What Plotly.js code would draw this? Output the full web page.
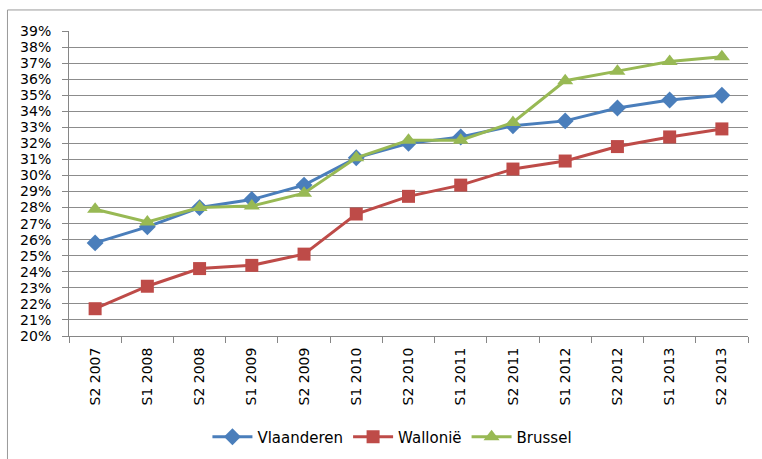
<!DOCTYPE html>
<html>
<head>
<meta charset="utf-8">
<script src="https://cdn.plot.ly/plotly-3.0.1.min.js"></script>
<style>
html,body{margin:0;padding:0;background:#fff;}
#chart{width:762px;height:459px;}
</style>
</head>
<body>
<div id="chart"></div>
<script>
const categories = ["S2 2007","S1 2008","S2 2008","S1 2009","S2 2009","S1 2010","S2 2010","S1 2011","S2 2011","S1 2012","S2 2012","S1 2013","S2 2013"];
const vlaanderen = [0.258,0.268,0.280,0.285,0.294,0.311,0.320,0.324,0.331,0.334,0.342,0.347,0.350];
const wallonie   = [0.217,0.231,0.242,0.244,0.251,0.276,0.287,0.294,0.304,0.309,0.318,0.324,0.329];
const brussel    = [0.279,0.271,0.280,0.281,0.289,0.311,0.322,0.322,0.333,0.359,0.365,0.371,0.374];
const yTickVals = [0.20,0.21,0.22,0.23,0.24,0.25,0.26,0.27,0.28,0.29,0.30,0.31,0.32,0.33,0.34,0.35,0.36,0.37,0.38,0.39];

const FONT = "DejaVu Sans, sans-serif";

const traces = [
  {x: categories, y: vlaanderen, name: "Vlaanderen", type: "scatter", mode: "lines+markers",
   line: {color: "#4A7EBB", width: 3}, marker: {symbol: "diamond", size: 13, color: "#4A7EBB"}},
  {x: categories, y: wallonie, name: "Wallonië", type: "scatter", mode: "lines+markers",
   line: {color: "#BE4B48", width: 3}, marker: {symbol: "square", size: 13, color: "#BE4B48"}},
  {x: categories, y: brussel, name: "Brussel", type: "scatter", mode: "lines+markers",
   line: {color: "#98B954", width: 3}, marker: {symbol: "triangle-up", size: 14, color: "#98B954"}}
];

const layout = {
  width: 762, height: 459,
  margin: {l: 69, r: 14, t: 31, b: 123},
  paper_bgcolor: "#ffffff", plot_bgcolor: "#ffffff",
  font: {family: FONT, size: 14, color: "#000"},
  showlegend: true,
  legend: {orientation: "h", xref: "container", yref: "container",
           x: 0.515, xanchor: "center", y: 0.048, yanchor: "middle",
           font: {family: FONT, size: 15, color: "#000"}, itemwidth: 40, tracegroupgap: 0},
  xaxis: {
    type: "category", tickson: "boundaries", ticks: "outside", ticklen: 6, tickcolor: "#868686",
    showline: true, linecolor: "#868686", linewidth: 1, showgrid: false, ticklabelstandoff: 5,
    automargin: false,
    tickangle: -90, tickfont: {family: FONT, size: 14, color: "#000"}, range: [-0.5, 12.5]
  },
  yaxis: {
    range: [0.20, 0.39], tickvals: yTickVals, tickformat: ".0%",
    ticks: "outside", ticklen: 6, tickcolor: "#868686", ticklabelstandoff: 8,
    showline: true, linecolor: "#868686", linewidth: 1, automargin: false,
    showgrid: true, gridcolor: "#8c8c8c", gridwidth: 1, zeroline: false,
    tickfont: {family: FONT, size: 14, color: "#000"}
  },
  shapes: [
    {type: "rect", xref: "paper", yref: "paper",
     x0: -0.0906, x1: 1.05, y0: -0.5, y1: 1.069,
     line: {color: "#9a9a9a", width: 1}, fillcolor: "rgba(0,0,0,0)", layer: "below"}
  ]
};

Plotly.newPlot("chart", traces, layout, {displayModeBar: false, staticPlot: true});
</script>
</body>
</html>
